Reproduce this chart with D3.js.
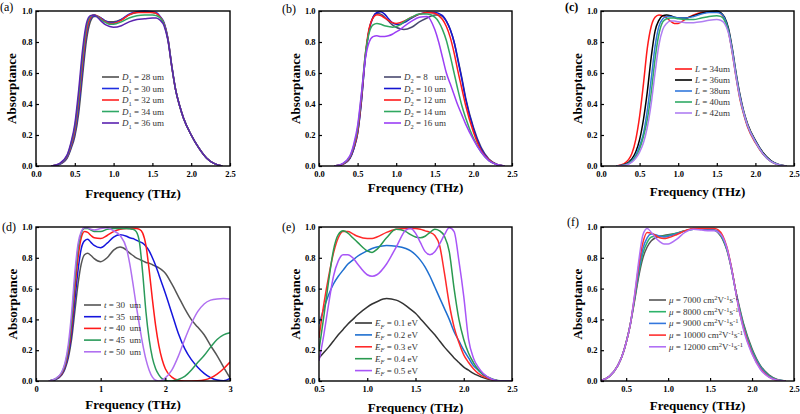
<!DOCTYPE html>
<html><head><meta charset="utf-8">
<script src="https://cdn.jsdelivr.net/npm/d3@7"></script>
<style>
body{margin:0;background:#fff}
svg{display:block}
text{font-family:"Liberation Serif","Times New Roman",serif}
.leg text{white-space:pre}
</style>
</head><body>
<svg id="c" width="800" height="414"></svg>
<script>
// ---------------- DATA ----------------
// (a) D1 sweep
const freqA = [0.2,0.3,0.4,0.45,0.5,0.55,0.6,0.65,0.7,0.75,0.8,0.85,0.9,0.95,1.0,1.1,1.2,1.3,1.4,1.5,1.55,1.6,1.65,1.7,1.75,1.8,1.85,1.9,2.0,2.1,2.2,2.3,2.4];
const A_D28 = [0,0.01,0.05,0.11,0.19,0.34,0.58,0.81,0.93,0.965,0.965,0.95,0.935,0.93,0.93,0.945,0.975,0.99,0.995,0.99,0.985,0.96,0.92,0.82,0.645,0.49,0.39,0.31,0.2,0.115,0.05,0.015,0];
const A_D30 = [0,0.01,0.055,0.12,0.21,0.38,0.63,0.85,0.95,0.97,0.965,0.95,0.935,0.925,0.925,0.945,0.98,0.995,1.0,0.995,0.99,0.965,0.925,0.825,0.645,0.49,0.39,0.31,0.2,0.115,0.05,0.015,0];
const A_D32 = [0,0.012,0.06,0.13,0.23,0.42,0.67,0.87,0.955,0.975,0.965,0.945,0.93,0.92,0.92,0.94,0.975,0.99,0.99,0.99,0.985,0.96,0.92,0.82,0.64,0.49,0.39,0.31,0.2,0.115,0.05,0.015,0];
const A_D34 = [0,0.013,0.065,0.14,0.25,0.45,0.71,0.9,0.965,0.975,0.96,0.94,0.925,0.915,0.915,0.93,0.955,0.97,0.975,0.975,0.97,0.955,0.915,0.815,0.64,0.49,0.39,0.31,0.2,0.115,0.05,0.015,0];
const A_D36 = [0,0.015,0.07,0.15,0.27,0.49,0.75,0.92,0.97,0.975,0.955,0.93,0.91,0.9,0.895,0.905,0.93,0.945,0.95,0.955,0.955,0.94,0.905,0.81,0.64,0.49,0.39,0.31,0.2,0.115,0.05,0.015,0];
const legA = ["28 um","30 um","32 um","34 um","36 um"];

// (b) D2 sweep
const freqB = [0.2,0.3,0.4,0.45,0.5,0.55,0.6,0.65,0.7,0.75,0.8,0.85,0.9,0.95,1.0,1.05,1.1,1.2,1.3,1.4,1.5,1.55,1.6,1.65,1.7,1.75,1.8,1.85,1.9,2.0,2.1,2.2,2.3,2.4];
const B_D8  = [0,0.01,0.05,0.11,0.21,0.42,0.7,0.88,0.96,0.985,0.98,0.96,0.935,0.91,0.895,0.885,0.88,0.895,0.93,0.955,0.975,0.975,0.965,0.935,0.88,0.8,0.69,0.57,0.44,0.25,0.12,0.045,0.012,0];
const B_D10 = [0,0.01,0.05,0.11,0.21,0.42,0.7,0.88,0.96,0.99,0.995,0.98,0.95,0.925,0.915,0.915,0.925,0.955,0.98,0.99,0.99,0.985,0.97,0.935,0.88,0.8,0.68,0.56,0.43,0.24,0.11,0.04,0.01,0];
const B_D12 = [0,0.01,0.055,0.12,0.22,0.44,0.72,0.89,0.955,0.975,0.97,0.955,0.94,0.925,0.92,0.925,0.935,0.96,0.98,0.99,0.985,0.97,0.945,0.9,0.83,0.73,0.61,0.5,0.39,0.22,0.1,0.04,0.01,0];
const B_D14 = [0,0.012,0.06,0.13,0.24,0.46,0.72,0.86,0.91,0.92,0.915,0.905,0.9,0.895,0.9,0.91,0.93,0.96,0.98,0.98,0.96,0.93,0.88,0.81,0.71,0.6,0.49,0.39,0.31,0.18,0.09,0.035,0.01,0];
const B_D16 = [0,0.014,0.065,0.14,0.26,0.47,0.69,0.8,0.835,0.84,0.835,0.835,0.84,0.85,0.865,0.88,0.9,0.935,0.96,0.965,0.88,0.8,0.7,0.6,0.53,0.46,0.39,0.33,0.27,0.17,0.09,0.035,0.01,0];
const legB = ["8   um","10 um","12 um","14 um","16 um"];

// (c) L sweep
const freqC = [0.2,0.3,0.4,0.45,0.5,0.55,0.6,0.65,0.7,0.75,0.8,0.85,0.9,0.95,1.0,1.1,1.2,1.3,1.4,1.5,1.55,1.6,1.65,1.7,1.75,1.8,1.85,1.9,2.0,2.1,2.2,2.3,2.4];
const C_L34 = [0,0.015,0.08,0.17,0.32,0.53,0.76,0.9,0.96,0.975,0.97,0.955,0.935,0.92,0.92,0.95,0.975,0.99,0.995,0.995,0.985,0.95,0.87,0.73,0.57,0.43,0.33,0.25,0.15,0.075,0.03,0.008,0];
const C_L36 = [0,0.008,0.045,0.09,0.17,0.3,0.48,0.7,0.87,0.94,0.97,0.975,0.97,0.96,0.955,0.955,0.97,0.985,0.995,1.0,0.99,0.96,0.89,0.76,0.6,0.46,0.35,0.27,0.165,0.085,0.035,0.01,0];
const C_L38 = [0,0.006,0.035,0.07,0.13,0.21,0.36,0.56,0.77,0.9,0.95,0.965,0.965,0.96,0.955,0.955,0.965,0.98,0.99,0.99,0.985,0.955,0.88,0.75,0.59,0.45,0.34,0.26,0.16,0.08,0.032,0.009,0];
const C_L40 = [0,0.005,0.03,0.06,0.11,0.19,0.3,0.47,0.69,0.85,0.93,0.95,0.955,0.955,0.95,0.945,0.945,0.955,0.965,0.97,0.965,0.94,0.87,0.74,0.58,0.44,0.34,0.26,0.155,0.078,0.03,0.008,0];
const C_L42 = [0,0.004,0.025,0.05,0.09,0.15,0.25,0.4,0.6,0.78,0.88,0.92,0.935,0.935,0.93,0.925,0.925,0.93,0.94,0.945,0.94,0.92,0.86,0.735,0.575,0.44,0.34,0.26,0.155,0.078,0.03,0.008,0];
const legC = ["34um","36um","38um","40um","42um"];

// (d) t sweep
const freqD = [0.2,0.3,0.4,0.45,0.5,0.55,0.6,0.65,0.7,0.75,0.8,0.85,0.9,1.0,1.1,1.2,1.3,1.4,1.45,1.5,1.55,1.6,1.65,1.7,1.75,1.8,1.85,1.9,1.95,2.0,2.1,2.2,2.3,2.4,2.5,2.6,2.7,2.8,2.9,3.0];
const D_t30 = [0,0.01,0.04,0.08,0.15,0.27,0.45,0.63,0.76,0.82,0.83,0.815,0.795,0.775,0.8,0.85,0.87,0.85,0.83,0.815,0.8,0.79,0.78,0.77,0.765,0.755,0.745,0.735,0.72,0.7,0.63,0.55,0.47,0.4,0.35,0.3,0.23,0.165,0.09,0.02];
const D_t35 = [0,0.01,0.045,0.09,0.17,0.31,0.52,0.72,0.86,0.91,0.92,0.9,0.88,0.865,0.895,0.935,0.95,0.94,0.93,0.925,0.915,0.905,0.895,0.875,0.845,0.8,0.75,0.69,0.63,0.57,0.44,0.31,0.21,0.14,0.09,0.05,0.022,0.006,0.002,0.017];
const D_t40 = [0,0.012,0.05,0.1,0.19,0.35,0.59,0.8,0.93,0.97,0.965,0.945,0.93,0.925,0.945,0.97,0.985,0.99,0.99,0.99,0.99,0.985,0.96,0.88,0.72,0.53,0.36,0.23,0.14,0.08,0.025,0.005,0.0,0.0,0.001,0.006,0.02,0.045,0.08,0.123];
const D_t45 = [0,0.013,0.055,0.11,0.21,0.39,0.65,0.86,0.96,0.99,0.99,0.98,0.97,0.97,0.985,0.99,0.99,0.99,0.988,0.985,0.97,0.9,0.7,0.45,0.27,0.15,0.08,0.04,0.015,0.004,0.0,0.01,0.03,0.07,0.12,0.165,0.22,0.27,0.3,0.313];
const D_t50 = [0,0.015,0.06,0.12,0.24,0.44,0.7,0.89,0.97,0.995,0.995,0.985,0.98,0.99,0.995,0.975,0.945,0.86,0.76,0.63,0.49,0.36,0.24,0.14,0.07,0.025,0.005,0.0,0.005,0.02,0.07,0.16,0.27,0.37,0.45,0.5,0.525,0.533,0.535,0.532];
const legD = ["30  um","35  um","40  um","45  um","50  um"];

// (e) Fermi level sweep
const freqE = [0.5,0.55,0.6,0.65,0.7,0.75,0.8,0.85,0.9,1.0,1.05,1.1,1.2,1.3,1.4,1.45,1.5,1.55,1.6,1.65,1.7,1.75,1.8,1.85,1.9,1.95,2.0,2.05,2.1,2.15,2.2,2.3,2.4,2.5];
const E_01 = [0.15,0.185,0.22,0.26,0.3,0.335,0.37,0.4,0.43,0.48,0.5,0.515,0.535,0.525,0.49,0.465,0.44,0.405,0.37,0.335,0.3,0.26,0.22,0.185,0.15,0.12,0.09,0.07,0.05,0.035,0.022,0.006,0,0];
const E_02 = [0.37,0.47,0.56,0.63,0.68,0.72,0.76,0.785,0.81,0.845,0.86,0.87,0.88,0.875,0.86,0.845,0.82,0.785,0.74,0.68,0.61,0.54,0.47,0.4,0.32,0.26,0.2,0.15,0.1,0.07,0.04,0.01,0,0];
const E_03 = [0.28,0.5,0.68,0.83,0.93,0.97,0.97,0.955,0.94,0.925,0.925,0.935,0.965,0.985,0.99,0.99,0.99,0.985,0.975,0.965,0.945,0.88,0.7,0.5,0.35,0.25,0.17,0.12,0.08,0.05,0.03,0.008,0,0];
const E_04 = [0.2,0.42,0.65,0.85,0.95,0.975,0.96,0.93,0.9,0.845,0.835,0.855,0.93,0.985,0.97,0.95,0.935,0.93,0.94,0.965,0.985,0.975,0.94,0.84,0.6,0.4,0.27,0.18,0.12,0.075,0.045,0.012,0,0];
const E_05 = [0.13,0.3,0.5,0.68,0.78,0.82,0.82,0.8,0.76,0.69,0.68,0.69,0.76,0.87,0.98,0.99,0.96,0.9,0.84,0.82,0.84,0.89,0.95,0.995,0.97,0.78,0.55,0.27,0.15,0.09,0.05,0.01,0,0];
const legE = ["0.1 eV","0.2 eV","0.3 eV","0.4 eV","0.5 eV"];

// (f) mobility sweep
const freqF = [0.2,0.3,0.4,0.45,0.5,0.55,0.6,0.65,0.7,0.75,0.8,0.85,0.9,0.95,1.0,1.1,1.2,1.3,1.4,1.5,1.55,1.6,1.65,1.7,1.75,1.8,1.85,1.9,2.0,2.1,2.2,2.3,2.4];
const F_7000  = [0.003,0.03,0.1,0.16,0.25,0.37,0.52,0.68,0.8,0.87,0.91,0.93,0.94,0.945,0.95,0.96,0.975,0.985,0.985,0.985,0.98,0.96,0.92,0.85,0.74,0.6,0.48,0.37,0.21,0.1,0.04,0.01,0];
const F_8000  = [0.003,0.03,0.1,0.16,0.25,0.37,0.53,0.7,0.83,0.9,0.935,0.94,0.94,0.94,0.945,0.96,0.975,0.985,0.985,0.985,0.98,0.965,0.925,0.855,0.745,0.6,0.47,0.36,0.2,0.095,0.035,0.008,0];
const F_9000  = [0.003,0.03,0.1,0.16,0.25,0.37,0.54,0.72,0.86,0.93,0.955,0.95,0.94,0.935,0.94,0.955,0.975,0.985,0.985,0.985,0.98,0.97,0.93,0.86,0.745,0.6,0.46,0.35,0.19,0.09,0.03,0.007,0];
const F_10000 = [0.003,0.03,0.1,0.16,0.25,0.37,0.55,0.75,0.9,0.965,0.96,0.945,0.93,0.925,0.93,0.95,0.975,0.99,0.99,0.99,0.99,0.98,0.945,0.87,0.75,0.6,0.45,0.34,0.18,0.08,0.027,0.005,0];
const F_12000 = [0.003,0.03,0.1,0.16,0.25,0.37,0.56,0.78,0.95,0.99,0.965,0.93,0.905,0.89,0.89,0.92,0.965,0.985,0.98,0.975,0.975,0.965,0.935,0.865,0.745,0.595,0.45,0.33,0.175,0.075,0.025,0.005,0];
const legF = ["7000","8000","9000","10000","12000"];

const yTicks = [0,0.2,0.4,0.6,0.8,1.0];
const xTicks25 = [0,0.5,1.0,1.5,2.0,2.5];
const xTicksD = [0,1,2,3];
const xTicksE = [0.5,1.0,1.5,2.0,2.5];
const xTicksF = [0.5,1.0,1.5,2.0,2.5];

// ---------------- LAYOUT ----------------
const panels = [
  {tag:"(a)", tagX:0, tagY:11, tagBold:false, box:[36,11,230,166], dom:[0,2.5], xt:xTicks25, xf:".1f",
   freq:freqA, series:[A_D28,A_D30,A_D32,A_D34,A_D36], colors:["#505050","#1f2fe0","#ff2222","#2fa866","#5b22b0"],
   legVals:legA, sym:[{t:"D",i:true},{t:"1",sub:true}], suf:null, leg:[102,77,11.5], ylx:13, xly:198},
  {tag:"(b)", tagX:282, tagY:13, tagBold:false, box:[319,11,512,166], dom:[0,2.5], xt:xTicks25, xf:".1f",
   freq:freqB, series:[B_D8,B_D10,B_D12,B_D14,B_D16], colors:["#4a4a70","#1515d0","#ff1a1a","#30a860","#9b3ff5"],
   legVals:legB, sym:[{t:"D",i:true},{t:"2",sub:true}], suf:null, leg:[384,77,11.5], ylx:297, xly:192},
  {tag:"(c)", tagX:565, tagY:11, tagBold:true, box:[601,11,794,166], dom:[0,2.5], xt:xTicks25, xf:".1f",
   freq:freqC, series:[C_L34,C_L36,C_L38,C_L40,C_L42], colors:["#ff1a1a","#000000","#3378dd","#30aa66","#b07ff2"],
   legVals:legC, sym:[{t:"L",i:true}], suf:null, leg:[675,69,11], ylx:579, xly:196},
  {tag:"(d)", tagX:2, tagY:231, tagBold:false, box:[36,227,230,381], dom:[0,3], xt:xTicksD, xf:"d",
   freq:freqD, series:[D_t30,D_t35,D_t40,D_t45,D_t50], colors:["#555555","#1515dd","#ff1a1a","#2a9a5a","#b070f0"],
   legVals:legD, sym:[{t:"t",i:true}], suf:null, leg:[84,305,11.7], ylx:14, xly:409},
  {tag:"(e)", tagX:282, tagY:231, tagBold:false, box:[319,227,512,381], dom:[0.5,2.5], xt:xTicksE, xf:".1f",
   freq:freqE, series:[E_01,E_02,E_03,E_04,E_05], colors:["#333333","#1e6fd0","#ff2a2a","#2a9a50","#a855f7"],
   legVals:legE, sym:[{t:"E",i:true},{t:"F",sub:true,i:true}], suf:null, leg:[355,323,11.9], ylx:297, xly:412},
  {tag:"(f)", tagX:567, tagY:226, tagBold:false, box:[601,227,794,381], dom:[0.2,2.5], xt:xTicksF, xf:".1f",
   freq:freqF, series:[F_7000,F_8000,F_9000,F_10000,F_12000], colors:["#555555","#2db36a","#3377dd","#ff3030","#b070f5"],
   legVals:legF, sym:[{t:"\u03bc",i:true}],
   suf:[{t:" cm"},{t:"2",sup:true},{t:"V"},{t:"-1",sup:true},{t:"s"},{t:"-1",sup:true}], leg:[649,300,11.7], ylx:579, xly:410}
];

// ---------------- DRAW ----------------
const svg = d3.select("#c");
const defs = svg.append("defs");

function rich(textSel, parts){
  let cur = 0;
  parts.forEach(p=>{
    const off = p.sub ? 2.5 : (p.sup ? -3.2 : 0);
    const ts = textSel.append("tspan").text(p.t);
    if (off !== cur) ts.attr("dy", off - cur);
    cur = off;
    if (p.sub || p.sup) ts.attr("font-size", 6.5);
    if (p.i) ts.attr("font-style", "italic");
  });
}

panels.forEach((P, pi) => {
  const [x0,y0,x1,y1] = P.box;
  const x = d3.scaleLinear().domain(P.dom).range([x0,x1]);
  const y = d3.scaleLinear().domain([0,1]).range([y1,y0]);
  const g = svg.append("g");

  const cid = "clip"+pi;
  defs.append("clipPath").attr("id",cid).append("rect")
    .attr("x",x0).attr("y",y0-2).attr("width",x1-x0).attr("height",y1-y0+2);

  // curves
  const line = d3.line().x(d=>x(d[0])).y(d=>y(d[1])).curve(d3.curveMonotoneX);
  const cg = g.append("g").attr("clip-path",`url(#${cid})`);
  P.series.forEach((vals, si) => {
    const pts = P.freq.map((f,k)=>[f, vals[k]]);
    cg.append("path").attr("d", line(pts)).attr("fill","none")
      .attr("stroke", P.colors[si]).attr("stroke-width", 1.5).attr("stroke-linejoin","round");
  });

  // axes
  const fmt = d3.format(P.xf);
  const xa = g.append("g").attr("transform",`translate(0,${y1})`)
    .call(d3.axisBottom(x).tickValues(P.xt).tickSize(-3).tickPadding(5).tickFormat(fmt));
  const ya = g.append("g").attr("transform",`translate(${x0},0)`)
    .call(d3.axisLeft(y).tickValues(yTicks).tickSize(-3).tickPadding(3.5).tickFormat(d3.format(".1f")));
  [xa,ya].forEach(a=>{
    a.select(".domain").remove();
    a.selectAll(".tick line").attr("stroke","#000").attr("stroke-width",1.2);
    a.selectAll(".tick text").attr("font-family","'Liberation Serif',serif").attr("font-weight","bold")
      .attr("font-size",8.5).attr("fill","#000");
  });

  // frame
  g.append("rect").attr("x",x0).attr("y",y0).attr("width",x1-x0).attr("height",y1-y0)
    .attr("fill","none").attr("stroke","#000").attr("stroke-width",1.4);

  // titles
  g.append("text").attr("x",(x0+x1)/2).attr("y",P.xly).attr("text-anchor","middle")
    .attr("font-weight","bold").attr("font-size",13).text("Frequency (THz)");
  g.append("text").attr("transform",`translate(${P.ylx},${(y0+y1)/2}) rotate(-90)`)
    .attr("text-anchor","middle").attr("dominant-baseline","middle")
    .attr("font-weight","bold").attr("font-size",13).text("Absorptance");
  g.append("text").attr("x",P.tagX).attr("y",P.tagY).attr("font-size",12)
    .attr("font-weight",P.tagBold?"bold":"normal").text(P.tag);

  // legend
  const [lx,ly,ldy] = P.leg;
  const lg = g.append("g").attr("class","leg");
  P.legVals.forEach((v,si)=>{
    const yy = ly + si*ldy;
    lg.append("line").attr("x1",lx).attr("x2",lx+17).attr("y1",yy).attr("y2",yy)
      .attr("stroke",P.colors[si]).attr("stroke-width",1.6);
    const t = lg.append("text").attr("x",lx+20).attr("y",yy+3).attr("font-size",9).attr("fill","#333");
    const parts = P.sym.concat([{t:" = "+v}]).concat(P.suf||[]);
    rich(t, parts);
  });
});
</script>
</body></html>
